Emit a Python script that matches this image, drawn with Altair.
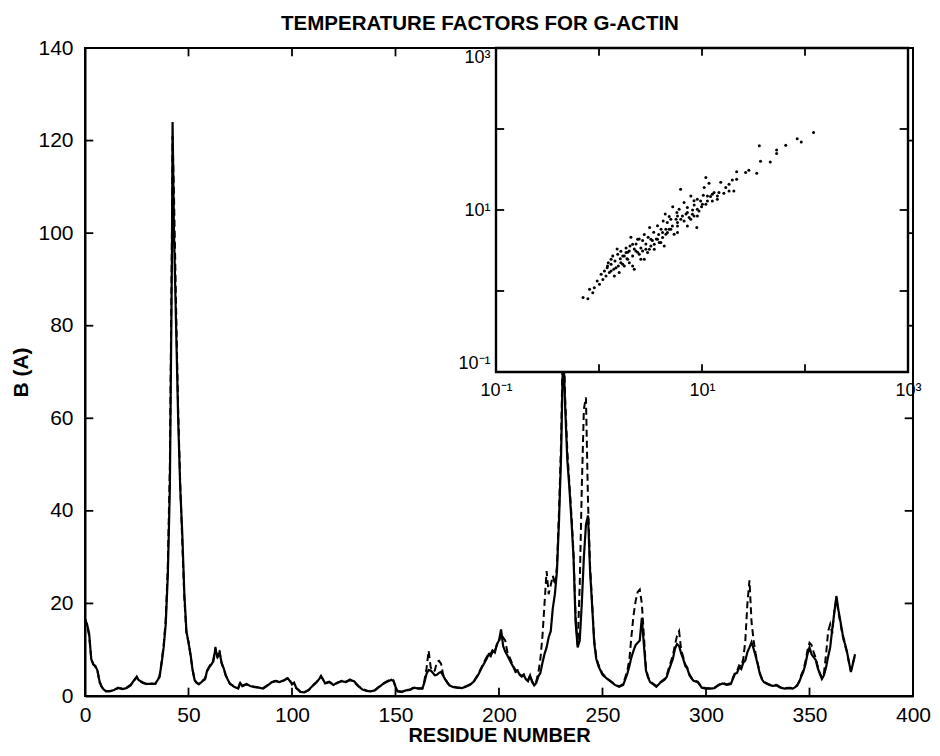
import altair as alt
import pandas as pd

# ---------------- data ----------------
residue = [
    0, 1, 2, 3, 4, 5, 6, 7, 8, 9, 10,
    12, 14, 16, 18, 20, 22, 24, 25, 26, 28,
    30, 32, 34, 36, 37, 38, 39, 40, 41, 42,
    42.3, 43, 44, 45, 46, 47, 48, 49, 50, 51,
    52, 53, 54, 55, 56, 57, 58, 59, 60, 61,
    62, 63, 64, 65, 66, 67, 68, 69, 70, 72,
    74, 75, 76, 78, 80, 82, 84, 86, 88, 90,
    92, 94, 96, 98, 99, 100, 101, 102, 104, 106,
    108, 110, 112, 114, 115, 116, 118, 120, 122, 124,
    126, 128, 130, 132, 134, 136, 138, 140, 142, 144,
    146, 148, 149, 150, 151, 153, 155, 157, 159, 161,
    163, 164, 165, 166, 167, 168, 169, 170, 171, 172,
    173, 174, 175, 176, 178, 180, 182, 184, 186, 188,
    190, 192, 193, 194, 195, 196, 197, 198, 199, 200,
    201, 202, 203, 204, 206, 207, 208, 209, 210, 211,
    212, 213, 214, 215, 216, 217, 218, 219, 220, 221,
    222, 223, 224, 225, 226, 227, 228, 229, 230, 231,
    232, 233, 234, 235, 236, 237, 238, 239, 240, 241,
    242, 243, 244, 245, 246, 247, 248, 250, 252, 254,
    256, 258, 260, 262, 263, 264, 265, 266, 267, 268,
    269, 270, 271, 272, 273, 274, 276, 278, 280, 281,
    282, 283, 284, 285, 286, 287, 288, 289, 290, 291,
    292, 293, 294, 296, 298, 300, 302, 304, 306, 308,
    310, 312, 314, 315, 316, 317, 318, 319, 320, 321,
    322, 323, 324, 325, 326, 327, 328, 330, 332, 334,
    336, 338, 340, 342, 344, 345, 346, 347, 348, 349,
    350, 351, 352, 353, 354, 355, 356, 357, 358, 359,
    360, 361, 362, 363, 364, 365, 366, 367, 368, 369,
    370, 371, 372,
]

b_solid = [
    16.6, 15.5, 13.5, 8.0, 6.8, 6.5, 5.5, 3.2, 2.0, 1.4, 1.1,
    1.0, 1.3, 1.8, 1.5, 1.7, 2.3, 3.6, 4.0, 3.4, 2.9,
    2.6, 2.6, 2.7, 4.1, 7.0, 10.5, 15.5, 26, 45, 95,
    124, 100, 80, 60, 45, 35, 22, 14, 11.5, 9.0,
    5.5, 3.4, 2.8, 2.6, 2.9, 3.3, 3.6, 5.5, 6.2, 6.8,
    7.5, 10.2, 8.5, 9.4, 7.2, 6.0, 4.5, 3.5, 2.7, 2.0,
    1.6, 2.8, 2.2, 2.6, 2.1, 2.0, 1.8, 1.6, 2.2, 2.9,
    3.2, 3.0, 3.4, 3.8, 3.2, 2.6, 2.9, 1.8, 0.9, 0.8,
    1.3, 2.2, 3.0, 4.2, 3.6, 2.7, 3.0, 2.4, 2.9, 3.2,
    3.0, 3.4, 3.2, 2.2, 1.4, 1.1, 1.0, 1.2, 1.9, 2.6,
    3.1, 3.5, 3.2, 2.0, 1.0, 0.9, 1.2, 1.3, 1.8, 1.6,
    1.6, 3.0, 4.8, 5.6, 5.5, 5.0, 4.5, 4.6, 5.0, 5.2,
    4.4, 3.6, 2.9, 2.3, 1.9, 1.8, 1.7, 2.0, 2.4, 3.2,
    4.6, 6.4, 7.2, 8.0, 9.0, 8.6, 9.8, 9.4, 11.2, 12.0,
    14.4, 10.8, 9.6, 8.8, 7.0, 6.2, 5.2, 5.4, 4.6, 4.2,
    4.5, 3.6, 3.2, 4.4, 3.0, 2.3, 2.8, 4.2, 5.0, 7.2,
    9.1, 10.5, 12.7, 14.0, 19.0, 22.0, 27.0, 38.0, 52.0, 76.0,
    62.0, 51.0, 45.0, 38.0, 30.0, 16.0, 10.5, 12.0, 20.0, 30.0,
    37.0, 39.0, 27.0, 19.5, 11.5, 8.0, 6.5, 4.6, 3.8, 3.1,
    2.4, 2.0, 2.4, 4.8, 6.5, 8.4, 9.8, 11.0, 11.5, 12.0,
    16.9, 11.0, 5.5, 4.0, 3.0, 2.7, 2.0, 2.9, 3.5, 4.1,
    5.5, 6.8, 8.0, 10.2, 11.2, 10.8, 9.2, 8.0, 6.5, 5.9,
    4.5, 3.8, 3.3, 3.0, 1.8, 1.6, 1.6, 1.7, 2.3, 2.7,
    2.4, 2.6, 4.8, 5.0, 6.2, 5.8, 7.2, 7.7, 9.5, 10.5,
    11.6, 10.2, 8.6, 6.8, 4.8, 3.6, 3.0, 2.5, 2.2, 2.3,
    1.8, 1.6, 1.7, 1.6, 2.2, 3.0, 4.2, 5.2, 6.8, 9.0,
    10.5, 9.0, 8.4, 7.8, 6.0, 4.8, 3.7, 4.5, 6.2, 8.5,
    10.5, 14.5, 18.0, 21.6, 18.5, 16.0, 13.4, 11.5, 9.8, 7.5,
    5.2, 7.0, 9.0,
]

b_dashed = [
    16.8, 15.2, 13.0, 8.3, 6.9, 6.3, 5.6, 3.0, 2.1, 1.3, 1.0,
    1.1, 1.2, 1.7, 1.6, 1.8, 2.4, 3.5, 4.2, 3.3, 2.8,
    2.5, 2.7, 2.6, 4.3, 7.4, 11.0, 16.5, 28, 50, 100,
    121, 108, 84, 62, 46, 33, 21, 13.5, 11.8, 8.6,
    5.8, 3.3, 2.9, 2.5, 3.0, 3.4, 3.8, 5.2, 6.4, 7.0,
    7.8, 10.6, 8.2, 9.8, 7.0, 5.8, 4.4, 3.6, 2.6, 2.1,
    1.7, 3.0, 2.1, 2.5, 2.2, 1.9, 1.8, 1.7, 2.3, 3.0,
    3.3, 3.1, 3.3, 4.0, 3.4, 2.5, 2.8, 1.7, 1.0, 0.8,
    1.2, 2.3, 3.1, 4.4, 3.5, 2.8, 3.1, 2.5, 2.8, 3.3,
    3.1, 3.6, 3.0, 2.1, 1.5, 1.2, 1.0, 1.3, 2.0, 2.7,
    3.2, 3.7, 3.4, 2.1, 1.1, 0.9, 1.3, 1.4, 1.9, 1.7,
    1.7, 3.4, 6.0, 9.8, 6.2, 5.3, 5.5, 7.4, 7.6, 7.0,
    4.6, 3.7, 3.0, 2.4, 2.0, 1.8, 1.8, 2.1, 2.5, 3.3,
    4.8, 6.6, 7.5, 8.4, 9.4, 9.0, 10.2, 9.8, 11.0, 11.6,
    13.6, 12.6, 12.0, 9.6, 7.4, 6.4, 5.5, 5.6, 4.8, 4.3,
    4.7, 3.8, 3.3, 4.6, 3.2, 2.5, 3.2, 5.0, 8.0, 13.0,
    20.0, 27.0, 22.0, 24.0, 26.0, 24.0, 28.0, 40.0, 55.0, 80.0,
    64.0, 53.0, 46.0, 39.0, 31.0, 17.0, 11.0, 24.0, 45.0, 62.0,
    64.5, 42.0, 28.0, 20.0, 12.0, 8.4, 6.8, 4.8, 3.9, 3.2,
    2.5, 2.1, 2.6, 5.5, 8.0, 13.0, 17.5, 20.5, 22.5, 23.0,
    20.0, 13.0, 6.0, 4.2, 3.2, 2.8, 2.2, 3.0, 3.7, 4.4,
    6.0, 7.4, 8.8, 11.0, 13.0, 14.0, 10.0, 8.4, 6.8, 6.1,
    4.7, 4.0, 3.4, 3.1, 1.9, 1.7, 1.7, 1.8, 2.4, 2.9,
    2.5, 2.8, 5.0, 5.4, 6.6, 6.4, 8.0, 12.0, 20.0, 25.0,
    16.0, 12.0, 9.0, 7.0, 5.0, 3.8, 3.1, 2.6, 2.3, 2.4,
    1.9, 1.7, 1.8, 1.7, 2.3, 3.2, 4.5, 5.6, 7.4, 9.8,
    11.5, 11.0, 9.5, 8.2, 6.4, 5.0, 3.9, 5.0, 9.0, 14.0,
    15.5, 13.5, 18.5, 21.0, 18.0, 15.6, 13.0, 11.2, 9.6, 7.4,
    5.4, 7.2, 8.8,
]

inset_x = [
    121, 84, 92, 65, 53, 53, 36, 37, 46, 28.5,
    34, 26.5, 21.7, 21.7, 19.7, 18.3, 17, 15.2, 14.6, 16.3,
    13.1, 12.1, 11.7, 10.9, 10.5, 10.3, 11.3, 9.7, 9.0, 9.9,
    9.0, 8.4, 7.8, 8.1, 8.9, 7.5, 7.0, 6.7, 6.2, 6.0,
    5.7, 5.6, 5.2, 4.8, 4.6, 4.4, 4.2, 4.0, 4.3, 3.8,
    3.7, 3.6, 3.4, 3.3, 3.1, 3.0, 2.85, 2.75, 2.65, 2.55,
    2.46, 2.37, 2.29, 2.2, 2.12, 2.04, 2.0, 1.9, 1.87, 1.83,
    1.76, 1.7, 1.63, 1.61, 1.54, 1.52, 1.5, 1.43, 1.39, 1.36,
    1.31, 1.26, 1.23, 1.2, 1.17, 1.13, 1.09, 1.05, 1.01, 0.96,
    0.9, 0.87, 0.81, 0.78, 0.70, 1.76, 1.97, 2.12, 2.55, 2.96,
    3.44, 3.98, 3.19, 2.75, 2.2, 1.57, 1.41, 4.98, 5.78, 4.46,
    5.36, 6.22, 7.21, 8.37, 9.35, 10.9, 12.6, 14.1, 18.3, 20.4,
    11.3, 6.7, 3.7, 3.08, 2.37, 1.9, 1.7, 1.31, 4.14, 4.8,
    7.78, 5.78, 1.21, 1.31, 1.46, 1.63, 1.83, 1.97, 2.12, 2.28,
    2.46, 2.65, 2.85, 3.19, 3.44, 3.84, 4.14, 4.46, 5.16, 5.78,
    6.46, 7.21, 8.07, 9.02, 10.1, 12.6, 14.1, 8.37, 7.21, 5.78,
    4.98, 4.62,
]
inset_y = [
    90.6, 76, 69, 63, 55, 50, 62, 40, 39, 31,
    28.5, 29, 29.6, 24, 23.5, 20.8, 18.9, 22, 16.4, 16.1,
    16.4, 14.7, 21.4, 25.2, 18.9, 15.2, 12.9, 12.9, 13.6, 11.0,
    10.2, 11.5, 14.9, 10.0, 6.1, 8.1, 8.9, 12.4, 18.1, 10.2,
    9.3, 7.7, 11.0, 8.3, 7.0, 8.9, 7.3, 5.8, 3.6, 5.0,
    6.4, 4.4, 5.3, 4.2, 6.1, 4.6, 3.8, 5.0, 4.2, 3.4,
    4.4, 3.0, 3.8, 3.3, 2.7, 4.6, 3.6, 3.0, 2.5, 3.4,
    2.7, 2.14, 3.1, 2.5, 2.04, 2.84, 3.3, 2.35, 1.85, 2.7,
    2.14, 1.69, 2.24, 1.94, 1.53, 1.77, 1.39, 1.61, 1.21, 1.33,
    1.1, 0.95, 1.05, 0.80, 0.83, 2.04, 2.24, 2.04, 2.47, 2.98,
    3.27, 3.96, 3.6, 2.47, 1.85, 1.69, 1.53, 5.78, 6.35, 5.01,
    5.01, 7.69, 6.35, 8.45, 9.75, 11.8, 12.9, 13.6, 17.2, 17.2,
    14.9, 7.3, 4.36, 3.27, 4.36, 2.47, 2.71, 1.77, 4.56, 5.78,
    7.69, 5.26, 2.04, 2.47, 1.94, 2.24, 2.98, 3.12, 3.78, 3.12,
    2.84, 3.12, 3.27, 4.36, 3.78, 3.96, 5.26, 5.78, 6.35, 7.0,
    8.45, 9.29, 8.87, 8.45, 11.8, 15.7, 14.9, 13.0, 10.7, 8.45,
    7.69, 5.26,
]

y_tick_values = [0, 20, 40, 60, 80, 100, 120, 140]
x_tick_values = [0, 50, 100, 150, 200, 250, 300, 350, 400]
inset_label_values = [0.1, 10, 1000]
inset_minor_values = [1, 10, 100]

assert len(residue) == len(b_solid) == len(b_dashed)
assert len(inset_x) == len(inset_y)

# ---------------- chart ----------------
FONT = "Liberation Sans"
W, H = 828, 648
IN_X0, IN_X1 = 411, 823      # inset box, plot-area pixels
IN_Y0, IN_Y1 = 324, 0

profile = pd.DataFrame({"residue": residue, "solid": b_solid, "dashed": b_dashed})
scatter = pd.DataFrame({"bx": inset_x, "by": inset_y})
frame = pd.DataFrame({"lo": [inset_label_values[0]], "hi": [inset_label_values[-1]]})

x_scale = alt.Scale(domain=[0, 400], nice=False, zero=False)
y_scale = alt.Scale(domain=[0, 140], nice=False, zero=False)

common_axis = dict(
    ticks=False, grid=False, domainColor="black", domainWidth=2,
    labelFont=FONT, labelFontSize=21, labelColor="black", labelFlush=False,
    titleFont=FONT, titleColor="black", titleFontWeight="bold", zindex=0,
)
x_axis = alt.Axis(values=x_tick_values, labelPadding=8, titlePadding=0,
                  titleFontSize=20, format="d", **common_axis)
y_axis = alt.Axis(values=y_tick_values, labelPadding=12, titlePadding=6,
                  titleFontSize=21, format="d", **common_axis)

XT = "RESIDUE NUMBER"
YT = "B (A)"

dashed = alt.Chart(profile).mark_line(
    color="black", strokeWidth=2.0, strokeDash=[7, 4]
).encode(
    x=alt.X("residue:Q", scale=x_scale, axis=x_axis, title=XT),
    y=alt.Y("dashed:Q", scale=y_scale, axis=y_axis, title=YT),
)
solid = alt.Chart(profile).mark_line(color="black", strokeWidth=2.2).encode(
    x=alt.X("residue:Q", scale=x_scale, axis=x_axis, title=XT),
    y=alt.Y("solid:Q", scale=y_scale, axis=y_axis, title=YT),
)

ytk = pd.DataFrame({"v": y_tick_values[1:-1]})
xtk = pd.DataFrame({"v": x_tick_values[1:-1]})
rule_style = dict(color="black", strokeWidth=1.8)

left_ticks = alt.Chart(ytk).mark_rule(**rule_style).encode(
    y=alt.Y("v:Q", scale=y_scale, axis=y_axis, title=YT),
    x=alt.datum(0), x2=alt.datum(4))
right_ticks = alt.Chart(ytk).mark_rule(**rule_style).encode(
    y=alt.Y("v:Q", scale=y_scale, axis=y_axis, title=YT),
    x=alt.datum(396), x2=alt.datum(400))
bottom_ticks = alt.Chart(xtk).mark_rule(**rule_style).encode(
    x=alt.X("v:Q", scale=x_scale, axis=x_axis, title=XT),
    y=alt.datum(0), y2=alt.datum(1.8))
top_ticks = alt.Chart(xtk).mark_rule(**rule_style).encode(
    x=alt.X("v:Q", scale=x_scale, axis=x_axis, title=XT),
    y=alt.datum(140), y2=alt.datum(138.2))

main = alt.layer(dashed, solid, left_ticks, right_ticks, bottom_ticks, top_ticks)

# ---------------- inset ----------------
ix_scale = alt.Scale(type="log", domain=[0.1, 1000], range=[IN_X0, IN_X1], nice=False)
iy_scale = alt.Scale(type="log", domain=[0.1, 1000], range=[IN_Y0, IN_Y1], nice=False)
sup = "datum.value < 1 ? '10\u207b\u00b9' : (datum.value < 100 ? '10\u00b9' : '10\u00b3')"
inset_axis_common = dict(
    values=inset_label_values, labelExpr=sup, ticks=False, domain=False, grid=False,
    labelFont=FONT, labelFontSize=18, labelColor="black", zindex=1,
)
ix_axis = alt.Axis(orient="bottom", offset=-(H - IN_Y0), labelPadding=9,
                   labelFlush=False, **inset_axis_common)
iy_axis = alt.Axis(orient="left", offset=-IN_X0, labelPadding=6,
                   labelFlush=True, **inset_axis_common)

box = alt.Chart(frame).mark_rect(fill="white", stroke="black", strokeWidth=2.4).encode(
    x=alt.X("lo:Q", scale=ix_scale, axis=ix_axis, title=None),
    x2="hi:Q",
    y=alt.Y("lo:Q", scale=iy_scale, axis=iy_axis, title=None),
    y2="hi:Q",
)
points = alt.Chart(scatter).mark_circle(color="black", size=9, opacity=1).encode(
    x=alt.X("bx:Q", scale=ix_scale, axis=ix_axis, title=None),
    y=alt.Y("by:Q", scale=iy_scale, axis=iy_axis, title=None),
)
itk = pd.DataFrame({"v": inset_minor_values})
in_left = alt.Chart(itk).mark_rule(**rule_style).encode(
    y=alt.Y("v:Q", scale=iy_scale, axis=iy_axis, title=None),
    x=alt.datum(0.1), x2=alt.datum(0.12))
in_right = alt.Chart(itk).mark_rule(**rule_style).encode(
    y=alt.Y("v:Q", scale=iy_scale, axis=iy_axis, title=None),
    x=alt.datum(830), x2=alt.datum(1000))
in_bottom = alt.Chart(itk).mark_rule(**rule_style).encode(
    x=alt.X("v:Q", scale=ix_scale, axis=ix_axis, title=None),
    y=alt.datum(0.1), y2=alt.datum(0.125))
in_top = alt.Chart(itk).mark_rule(**rule_style).encode(
    x=alt.X("v:Q", scale=ix_scale, axis=ix_axis, title=None),
    y=alt.datum(1000), y2=alt.datum(800))

inset = alt.layer(box, points, in_left, in_right, in_bottom, in_top)

chart = (
    alt.layer(main, inset)
    .resolve_scale(x="independent", y="independent")
    .properties(
        width=W, height=H,
        title=alt.TitleParams(
            "TEMPERATURE FACTORS FOR G-ACTIN", font=FONT, fontSize=20.5,
            fontWeight="bold", color="black", offset=3, dx=-19,
        ),
        padding={"left": 77, "top": 40, "right": 18, "bottom": 50},
        autosize=alt.AutoSizeParams(type="none"),
    )
    .configure(background="white")
    .configure_view(stroke="black", strokeWidth=2)
)

chart.save("out.html", embed_options={"renderer": "svg", "actions": False})
